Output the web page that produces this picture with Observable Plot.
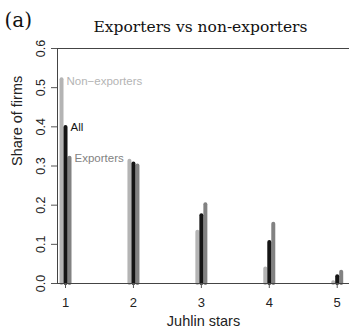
<!DOCTYPE html>
<html>
<head>
<meta charset="utf-8">
<script src="https://cdn.jsdelivr.net/npm/d3@7"></script>
<script src="https://cdn.jsdelivr.net/npm/@observablehq/plot@0.6"></script>
<style>
  html, body { margin: 0; padding: 0; background: #fff; }
  svg { display: block; }
</style>
</head>
<body>
<div id="chart"></div>
<script>
// ---- data ----
const stars = [1, 2, 3, 4, 5];
const nonExporters = [0.52, 0.312, 0.131, 0.037, 0.002];
const allFirms     = [0.398, 0.305, 0.173, 0.105, 0.017];
const exporters    = [0.32, 0.30, 0.201, 0.151, 0.029];
const yTicks = [0, 0.1, 0.2, 0.3, 0.4, 0.5, 0.6];
const seriesNames = ["Non\u2212exporters", "All", "Exporters"];
const titleText = "Exporters vs non-exporters";
const panelTag = "(a)";
const xLabel = "Juhlin stars";
const yLabel = "Share of firms";

// ---- styling ----
const colors = ["#b4b4b4", "#151515", "#828282"];
const offsets = [-4, 0, 4];
const xDomain = [0.882, 5.181];

const series = [nonExporters, allFirms, exporters];
const rows = [];
series.forEach((vals, s) => stars.forEach((st, i) => rows.push({s, star: st, v: vals[i]})));
const drawOrder = [0, 2, 1];

const barMarks = drawOrder.map(s => Plot.ruleX(rows.filter(r => r.s === s), {
  x: "star", y1: 0, y2: "v", dx: offsets[s], stroke: colors[s], strokeWidth: 4, strokeLinecap: "round"
}));

const labelMarks = [0, 1, 2].map(s => Plot.text([{star: stars[0], v: series[s][0]}], {
  x: "star", y: "v", text: () => seriesNames[s], dx: offsets[s] + 5, dy: s === 0 ? 1 : 0,
  textAnchor: "start", fill: colors[s], fontSize: 11.5, fontFamily: "Liberation Sans, Arial, sans-serif"
}));

const chart = Plot.plot({
  width: 349, height: 331,
  marginLeft: 57, marginRight: 0, marginTop: 48, marginBottom: 48,
  style: {background: "#fff", fontFamily: "Liberation Sans, Arial, sans-serif", color: "#222"},
  x: {domain: xDomain},
  y: {domain: [0, 0.6]},
  marks: [
    ...barMarks,
    Plot.ruleY([0, 0.6], {stroke: "#444", strokeWidth: 1}),
    Plot.ruleX([xDomain[0]], {y1: 0, y2: 0.6, stroke: "#444", strokeWidth: 1}),
    Plot.axisX(stars, {tickSize: 5, tickPadding: 9, fontSize: 13, label: null, stroke: "#555", fill: "#222"}),
    Plot.axisY(yTicks, {tickSize: 6, tickPadding: 7, tickRotate: -90, fontSize: 12.5, label: null,
      tickFormat: d => d.toFixed(1), stroke: "#555", fill: "#222"}),
    ...labelMarks,
    Plot.text([xLabel], {text: d => d, frameAnchor: "bottom", dy: 42, fontSize: 14.5, fill: "#222"}),
    Plot.text([yLabel], {text: d => d, frameAnchor: "left", dx: -40, rotate: -90, fontSize: 14.5, fill: "#222"}),
    Plot.text([titleText], {text: d => d, frameAnchor: "top", dx: -3, dy: -28, fontSize: 15.5,
      fontFamily: "DejaVu Serif, serif", fill: "#111"}),
    Plot.text([panelTag], {text: d => d, frameAnchor: "top-left", dx: -53, dy: -36, fontSize: 20,
      textAnchor: "start", fontFamily: "DejaVu Serif, serif", fill: "#111"})
  ]
});
document.getElementById("chart").appendChild(chart);
</script>
</body>
</html>
